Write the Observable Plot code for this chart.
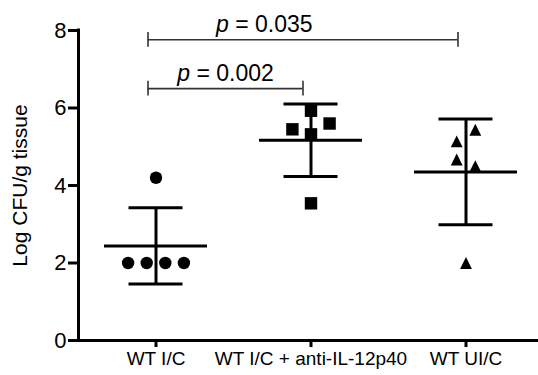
<!DOCTYPE html>
<html><head><meta charset="utf-8">
<script src="https://cdn.jsdelivr.net/npm/d3@7"></script>
<script src="https://cdn.jsdelivr.net/npm/@observablehq/plot@0.6"></script>
<style>body{margin:0;background:#fff;} #chart{width:538px;height:375px}</style>
</head><body><div id="chart"></div>
<script>
// ---- data ----
const groups = ["WT I/C", "WT I/C + anti-IL-12p40", "WT UI/C"];
const wtIC = [4.2, 2.0, 2.0, 2.0, 2.0];
const wtICanti = [5.93, 5.45, 5.32, 5.60, 3.54];
const wtUIC = [5.14, 5.44, 4.67, 4.50, 2.0];
const yTicks = [0, 2, 4, 6, 8];
const compFrom = [0, 0];
const compTo = [1, 2];
const compLevel = [6.5, 7.76];
const compP = ["0.002", "0.035"];
const compLabelAt = [0.5, 0.75];

// ---- layout ----
const W = 538, H = 375, mt = 30, mb = 35, ml = 78, mr = 0;
const yMax = 8;
const pxPerUnit = (H - mt - mb) / yMax;
const bandPx = 155;
const colStep = 18.6 / bandPx;   // swarm column spacing in x units
const rowGap = 12.5;             // px: symbols closer than this share a row

const series = [wtIC, wtICanti, wtUIC];

// simple row-based swarm layout (like GraphPad scatter columns)
function swarmOffsets(values) {
  const rows = [];
  values.forEach((v, i) => {
    let row = rows.find(r => r.some(j => Math.abs(values[j] - v) * pxPerUnit < rowGap));
    if (!row) { row = []; rows.push(row); }
    row.push(i);
  });
  const off = new Array(values.length).fill(0);
  for (const row of rows) row.forEach((i, k) => { off[i] = (k - (row.length - 1) / 2) * colStep; });
  return off;
}

const points = series.map((vals, g) => {
  const off = swarmOffsets(vals);
  return vals.map((v, i) => ({g, x: g + off[i], y: v}));
});

const stats = series.map((vals, g) => {
  const m = d3.mean(vals), sd = d3.deviation(vals);
  return {g, mean: m, lo: m - sd, hi: m + sd};
});

const comps = compFrom.map((a, i) => ({a, b: compTo[i], level: compLevel[i], p: compP[i], at: compLabelAt[i]}));
const compEnds = comps.flatMap(c => [{x: c.a, level: c.level}, {x: c.b, level: c.level}]);

const triangleBox = {
  draw(context, size) {
    const h = Math.sqrt(size) * 0.54;
    context.moveTo(0, -h);
    context.lineTo(h, h);
    context.lineTo(-h, h);
    context.closePath();
  }
};

const meanHalf = 51.5 / bandPx, capHalf = 27 / bandPx;
const font = "Liberation Sans, Arial, Helvetica, sans-serif";

const svg = Plot.plot({
  width: W, height: H,
  marginTop: mt, marginBottom: mb, marginLeft: ml, marginRight: mr,
  style: {fontFamily: font, color: "#000", background: "#fff"},
  x: {type: "linear", domain: [-0.5, 2.5], range: [ml, ml + 3 * bandPx]},
  y: {domain: [0, yMax]},
  marks: [
    Plot.axisY({ticks: yTicks, tickSize: 10, strokeWidth: 3, text: null, label: null}),
    Plot.text(yTicks, {x: -0.5, y: d => d, dx: -12, textAnchor: "end", fontSize: 22, fill: "#000"}),
    Plot.axisX({ticks: [0, 1, 2], tickSize: 7, strokeWidth: 3, text: null, label: null}),
    Plot.text([0, 1, 2], {x: d => d, y: 0, text: d => groups[d], dy: 11, lineAnchor: "top", fontSize: 19, fill: "#000"}),
    Plot.ruleY([0], {stroke: "#000", strokeWidth: 3, strokeLinecap: "square"}),
    Plot.ruleX([-0.5], {y1: 0, y2: yMax, stroke: "#000", strokeWidth: 3, strokeLinecap: "square"}),
    Plot.text(["Log CFU/g tissue"], {frameAnchor: "left", textAnchor: "middle", dx: -58, rotate: -90, fontSize: 21, fill: "#000"}),
    // mean ± SD
    Plot.ruleX(stats, {x: "g", y1: "lo", y2: "hi", stroke: "#000", strokeWidth: 3}),
    Plot.ruleY(stats, {y: "mean", x1: d => d.g - meanHalf, x2: d => d.g + meanHalf, stroke: "#000", strokeWidth: 3}),
    Plot.ruleY(stats, {y: "lo", x1: d => d.g - capHalf, x2: d => d.g + capHalf, stroke: "#000", strokeWidth: 3}),
    Plot.ruleY(stats, {y: "hi", x1: d => d.g - capHalf, x2: d => d.g + capHalf, stroke: "#000", strokeWidth: 3}),
    // points
    Plot.dot(points[0], {x: "x", y: "y", r: 6.2, symbol: "circle", fill: "#000", stroke: "none"}),
    Plot.dot(points[1], {x: "x", y: "y", r: 7, symbol: "square", fill: "#000", stroke: "none"}),
    Plot.dot(points[2], {x: "x", y: "y", r: 6.2, symbol: triangleBox, fill: "#000", stroke: "none"}),
    // significance brackets
    Plot.ruleY(comps, {y: "level", x1: "a", x2: "b", dx: -8, stroke: "#333", strokeWidth: 1.6}),
    Plot.ruleX(compEnds, {x: "x", y1: d => d.level - 0.19, y2: d => d.level + 0.19, dx: -8, stroke: "#333", strokeWidth: 1.6}),
    Plot.text(comps, {x: "at", y: "level", text: d => "p = " + d.p, dx: -8, dy: -8, lineAnchor: "bottom", fontSize: 23, fill: "#000"})
  ]
});

d3.select(svg).selectAll("text")
  .filter(function () { return this.textContent.startsWith("p = "); })
  .each(function () {
    const rest = this.textContent.slice(1);
    const t = d3.select(this);
    t.text(null);
    t.append("tspan").attr("font-style", "italic").text("p");
    t.append("tspan").text(rest);
  });

document.getElementById("chart").appendChild(svg);
</script>
</body></html>
